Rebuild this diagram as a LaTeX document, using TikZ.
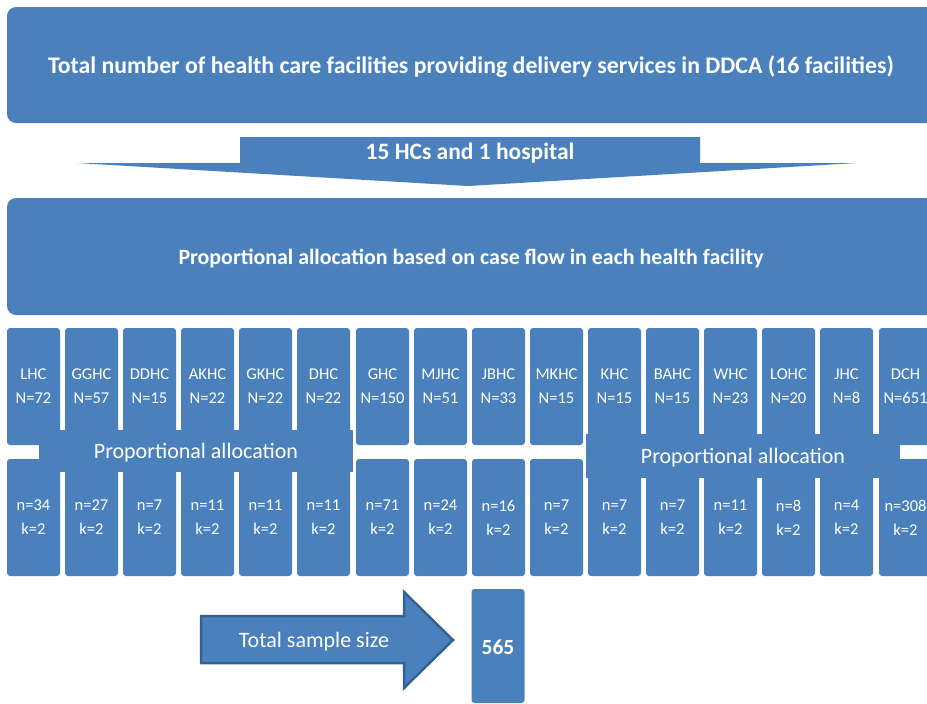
\documentclass[tikz,border=0pt]{standalone}
\usepackage{fontspec}
\setmainfont{Carlito}
\usetikzlibrary{positioning}
\definecolor{boxblue}{HTML}{4A81BD}
\definecolor{edgeblue}{HTML}{33628F}

\begin{document}
\begin{tikzpicture}[x=1pt, y=-1pt,
    big/.style = {fill=boxblue, text=white, rounded corners=9pt, minimum width=928pt, inner sep=0pt, text depth=0pt},
    fac/.style = {fill=boxblue, text=white, rounded corners=3pt, minimum width=53pt, minimum height=117pt, align=center, inner sep=0pt, text depth=0pt, font=\fontsize{16.5}{24}\selectfont, execute at begin node=\strut},
    band/.style = {fill=boxblue, text=white, minimum width=314pt, inner sep=0pt, text depth=0pt, font=\fontsize{22}{24}\selectfont}]
      \useasboundingbox (0,0) rectangle (927,704);

      \node[big, minimum height=116pt, font=\bfseries\fontsize{23.8}{26}\selectfont] (top)   at (471,65)    {Total number of health care facilities providing delivery services in DDCA (16 facilities)};
      \fill[boxblue] (240,137) -- (700,137) -- (700,163) -- (857,163) -- (468,186) -- (77,163) -- (240,163) -- cycle;
      \node[text=white, font=\bfseries\fontsize{23.5}{26}\selectfont] (split) at (470,153) {15 HCs and 1 hospital};
      \node[big, minimum height=117pt, font=\bfseries\fontsize{21.9}{24}\selectfont] (alloc) at (471,256.5) {Proportional allocation based on case flow in each health facility};

      \node[fac] (lhc)  at (33.5,386.5)  {LHC\\N=72};
      \node[fac] (gghc) at (91.5,386.5)  {GGHC\\N=57};
      \node[fac] (ddhc) at (149.5,386.5) {DDHC\\N=15};
      \node[fac] (akhc) at (207.5,386.5) {AKHC\\N=22};
      \node[fac] (gkhc) at (265.5,386.5) {GKHC\\N=22};
      \node[fac] (dhc)  at (323.5,386.5) {DHC\\N=22};
      \node[fac] (ghc)  at (382.5,386.5) {GHC\\N=150};
      \node[fac] (mjhc) at (440.5,386.5) {MJHC\\N=51};
      \node[fac] (jbhc) at (498.5,386.5) {JBHC\\N=33};
      \node[fac] (mkhc) at (556.5,386.5) {MKHC\\N=15};
      \node[fac] (khc)  at (614.5,386.5) {KHC\\N=15};
      \node[fac] (bahc) at (672.5,386.5) {BAHC\\N=15};
      \node[fac] (whc)  at (730.5,386.5) {WHC\\N=23};
      \node[fac] (lohc) at (788.5,386.5) {LOHC\\N=20};
      \node[fac] (jhc)  at (846.5,386.5) {JHC\\N=8};
      \node[fac] (dch)  at (905.5,386.5) {DCH\\N=651};

      \node[fac] (lhcn)  at (33.5,517.5)  {n=34\\k=2};
      \node[fac] (gghcn) at (91.5,517.5)  {n=27\\k=2};
      \node[fac] (ddhcn) at (149.5,517.5) {n=7\\k=2};
      \node[fac] (akhcn) at (207.5,517.5) {n=11\\k=2};
      \node[fac] (gkhcn) at (265.5,517.5) {n=11\\k=2};
      \node[fac] (dhcn)  at (323.5,517.5) {n=11\\k=2};
      \node[fac] (ghcn)  at (382.5,517.5) {n=71\\k=2};
      \node[fac] (mjhcn) at (440.5,517.5) {n=24\\k=2};
      \node[fac] (jbhcn) at (498.5,517.5) {n=16\\k=2};
      \node[fac] (mkhcn) at (556.5,517.5) {n=7\\k=2};
      \node[fac] (khcn)  at (614.5,517.5) {n=7\\k=2};
      \node[fac] (bahcn) at (672.5,517.5) {n=7\\k=2};
      \node[fac] (whcn)  at (730.5,517.5) {n=11\\k=2};
      \node[fac] (lohcn) at (788.5,517.5) {n=8\\k=2};
      \node[fac] (jhcn)  at (846.5,517.5) {n=4\\k=2};
      \node[fac] (dchn)  at (905.5,517.5) {n=308\\k=2};

      \node[band, minimum height=42pt] (propL) at (196,451) {Proportional allocation};
      \node[band, minimum height=44pt] (propR) at (743,456) {Proportional allocation};

      \filldraw[fill=boxblue, draw=edgeblue, line width=2.5pt, line join=miter] (201,616) -- (404,616) -- (404,592) -- (453,640) -- (404,688) -- (404,663) -- (201,663) -- cycle;
      \node[text=white, text depth=0pt, font=\fontsize{22}{24}\selectfont] (total) at (314,640) {Total sample size};
      \node[fac, minimum height=114pt, font=\bfseries\fontsize{21.5}{24}\selectfont] (sum) at (498,646) {565};
\end{tikzpicture}
\end{document}
